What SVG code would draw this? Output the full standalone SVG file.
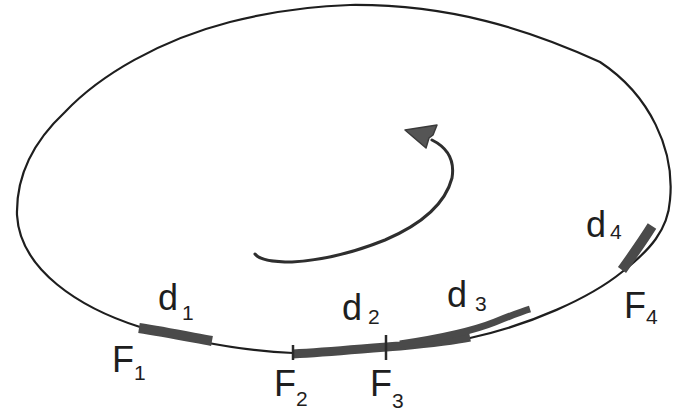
<svg xmlns="http://www.w3.org/2000/svg" width="686" height="417" viewBox="0 0 686 417">
<style>
.thin{fill:none;stroke:#1e1e1e;stroke-width:2.2;stroke-linecap:round;stroke-linejoin:round}
.band{fill:none;stroke:#4a4a4a;stroke-linecap:butt}
.tick{fill:none;stroke:#2a2a2a;stroke-width:2.5}
.lbl{font-family:"Liberation Sans",Arial,sans-serif;font-size:36px;fill:#1e1e1e}
.sub{font-size:21px}
</style>
<rect width="686" height="417" fill="#ffffff"/>
<g id="loop">
<path class="thin" d="M350,5 C450,4 530,30 600,62 C650,95 675,150 670,200 C668,230 650,250 622,272 C590,298 530,325 470,338 C420,346 350,353 293,353 C240,351 180,338 140,327 C80,308 20,270 17,215 C16,175 35,140 65,112 C100,75 160,40 230,22 C270,12 310,6 350,5 Z"/>
</g>
<g id="d1">
<path class="band" stroke-width="10" d="M139,328 C165,332 190,337 212,341"/>
<text class="lbl" x="158" y="310">d<tspan class="sub" dx="4" dy="10">1</tspan></text>
</g>
<g id="F1">
<text class="lbl" x="112" y="372">F<tspan class="sub" dx="0" dy="8">1</tspan></text>
</g>
<g id="d2">
<path class="band" stroke-width="9" d="M293,354 C330,352 360,349 400,346 C430,343 455,340 470,337"/>
<text class="lbl" x="342" y="320">d<tspan class="sub" dx="6" dy="4">2</tspan></text>
</g>
<g id="F2">
<line class="tick" x1="293" y1="345" x2="293" y2="360"/>
<text class="lbl" x="274" y="396">F<tspan class="sub" dx="0" dy="10">2</tspan></text>
</g>
<g id="d3">
<path class="band" stroke-width="7" d="M400,344 C440,338 470,332 495,322 C510,316 520,312 530,309"/>
<text class="lbl" x="447" y="307">d<tspan class="sub" dx="8" dy="4">3</tspan></text>
</g>
<g id="F3">
<line class="tick" x1="386" y1="335" x2="386" y2="360"/>
<text class="lbl" x="370" y="396">F<tspan class="sub" dx="0" dy="12">3</tspan></text>
</g>
<g id="d4">
<path class="band" stroke-width="10" d="M622,270 C632,256 642,242 652,226"/>
<text class="lbl" x="586" y="237">d<tspan class="sub" dx="4" dy="2">4</tspan></text>
</g>
<g id="F4">
<text class="lbl" x="624" y="318">F<tspan class="sub" dx="0" dy="6">4</tspan></text>
</g>
<g id="connectors">
<path d="M255,254 Q261,262 292,262 C330,260 360,250 385,240 C420,225 445,205 452,178 C455,160 448,148 432,140" fill="none" stroke="#2e2e2e" stroke-width="3" stroke-linecap="round"/>
<polygon points="405,130 437,125 433,135 429,138 426,148" fill="#555555" stroke="#3a3a3a" stroke-width="1.5" stroke-linejoin="round"/>
</g>
</svg>
